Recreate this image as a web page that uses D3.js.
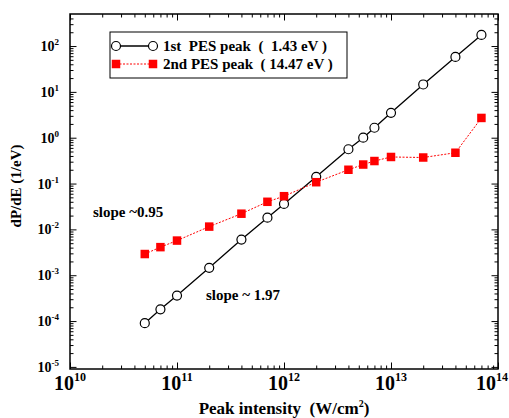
<!DOCTYPE html>
<html>
<head>
<meta charset="utf-8">
<script src="https://cdn.jsdelivr.net/npm/d3@7"></script>
<style>
  body { margin: 0; background: #fff; }
  text { font-family: "Liberation Serif", "Times New Roman", serif; font-weight: bold; fill: #000; white-space: pre; }
</style>
</head>
<body>
<div id="chart"></div>
<script>
// intensity (W/cm^2)
const intensity = [5e10, 7e10, 1e11, 2e11, 4e11, 7e11, 1e12, 2e12, 4e12, 5.5e12, 7e12, 1e13, 2e13, 4e13, 7e13];
// dP/dE for 1st PES peak (1.43 eV)
const peak1 = [9e-5, 1.8e-4, 3.6e-4, 1.45e-3, 6e-3, 1.8e-2, 3.6e-2, 0.14, 0.56, 1.0, 1.65, 3.5, 14.5, 58, 175];
// dP/dE for 2nd PES peak (14.47 eV)
const peak2 = [2.9e-3, 4.1e-3, 5.7e-3, 1.15e-2, 2.2e-2, 4e-2, 5.3e-2, 0.107, 0.2, 0.26, 0.31, 0.38, 0.37, 0.47, 2.7];
const xDecades = [10, 11, 12, 13, 14];
const yDecades = [-5, -4, -3, -2, -1, 0, 1, 2];
const legendLabels = ["1st  PES peak  (  1.43 eV )", "2nd PES peak  ( 14.47 eV )"];

const W = 509, H = 418;
const margin = {top: 14, right: 11, bottom: 49, left: 70};
const width = W - margin.left - margin.right;
const height = H - margin.top - margin.bottom;

const svg = d3.select("#chart").append("svg")
    .attr("width", W)
    .attr("height", H);

const g = svg.append("g")
    .attr("transform", `translate(${margin.left},${margin.top})`);

const x = d3.scaleLog().domain([1e10, 1e14]).range([0, width]);
const y = d3.scaleLog().domain([9e-6, 500]).range([height, 0]);

// major and minor tick values
const xMajor = xDecades.map(e => Math.pow(10, e));
const xMinor = [];
xDecades.slice(0, -1).forEach(e => { for (let k = 2; k < 10; k++) xMinor.push(k * Math.pow(10, e)); });
const yMajor = yDecades.map(e => Math.pow(10, e));
const yMinor = [];
[-6].concat(yDecades).forEach(e => {
    for (let k = 2; k < 10; k++) {
        const v = k * Math.pow(10, e);
        if (v > 9e-6 && v < 500) yMinor.push(v);
    }
});

function tickAxis(axisFn, scale, vals, size) {
    return axisFn(scale).tickValues(vals).tickSize(size).tickFormat("");
}

const axes = [
    [d3.axisBottom, x, `translate(0,${height})`],
    [d3.axisTop, x, null],
    [d3.axisLeft, y, null],
    [d3.axisRight, y, `translate(${width},0)`]
];
axes.forEach(([fn, sc, tr]) => {
    const isX = sc === x;
    [[isX ? xMajor : yMajor, 6.5], [isX ? xMinor : yMinor, 3.5]].forEach(([vals, len]) => {
        const a = g.append("g").call(tickAxis(fn, sc, vals, -len));
        if (tr) a.attr("transform", tr);
        a.select(".domain").remove();
        a.selectAll("line").attr("stroke", "#000").attr("stroke-width", 1);
    });
});

// frame
g.append("rect")
    .attr("width", width)
    .attr("height", height)
    .attr("fill", "none")
    .attr("stroke", "#000")
    .attr("stroke-width", 1.5);

// x tick labels (last one pulled in so it fits)
const xl = g.selectAll(".xlab").data(xDecades).join("text")
    .attr("class", "xlab")
    .attr("x", (d, i) => i === xDecades.length - 1 ? width + margin.right - 1 : x(Math.pow(10, d)))
    .attr("y", height + 21)
    .attr("text-anchor", (d, i) => i === xDecades.length - 1 ? "end" : "middle")
    .style("font-size", "20px");
xl.append("tspan").text("10");
xl.append("tspan").attr("dy", -9).style("font-size", "12px").text(d => d);

// y tick labels
const yl = g.selectAll(".ylab").data(yDecades).join("text")
    .attr("class", "ylab")
    .attr("x", -11)
    .attr("y", d => y(Math.pow(10, d)) + 5)
    .attr("text-anchor", "end")
    .style("font-size", "14px");
yl.append("tspan").text("10");
yl.append("tspan").attr("dy", -6).style("font-size", "9px").text(d => d);

// axis titles
const xt = svg.append("text")
    .attr("x", margin.left + width / 2)
    .attr("y", 414)
    .attr("text-anchor", "middle")
    .style("font-size", "17px");
xt.append("tspan").text("Peak intensity  (W/cm");
xt.append("tspan").attr("dy", -7).style("font-size", "10px").text("2");
xt.append("tspan").attr("dy", 7).text(")");

svg.append("text")
    .attr("transform", "translate(21,186) rotate(-90)")
    .attr("text-anchor", "middle")
    .style("font-size", "15px")
    .text("dP/dE (1/eV)");

// series
const pts1 = intensity.map((v, i) => [v, peak1[i]]);
const pts2 = intensity.map((v, i) => [v, peak2[i]]);
const line = d3.line().x(d => x(d[0])).y(d => y(d[1]));

g.append("path")
    .datum(pts1)
    .attr("d", line)
    .attr("fill", "none")
    .attr("stroke", "#000")
    .attr("stroke-width", 1.3);

g.append("path")
    .datum(pts2)
    .attr("d", line)
    .attr("fill", "none")
    .attr("stroke", "#ff0000")
    .attr("stroke-width", 1)
    .attr("stroke-dasharray", "2,1.5");

g.selectAll(".c1").data(pts1).join("circle")
    .attr("class", "c1")
    .attr("cx", d => x(d[0]))
    .attr("cy", d => y(d[1]))
    .attr("r", 4.5)
    .attr("fill", "#fff")
    .attr("stroke", "#000")
    .attr("stroke-width", 1.2);

const sq = 8.5;
g.selectAll(".s2").data(pts2).join("rect")
    .attr("class", "s2")
    .attr("x", d => x(d[0]) - sq / 2)
    .attr("y", d => y(d[1]) - sq / 2)
    .attr("width", sq)
    .attr("height", sq)
    .attr("fill", "#ff0000");

// annotations
svg.append("text").attr("x", 93).attr("y", 217).style("font-size", "15px").text("slope ~0.95");
svg.append("text").attr("x", 206).attr("y", 300).style("font-size", "15px").text("slope ~ 1.97");

// legend
const lg = svg.append("g");
lg.append("rect")
    .attr("x", 110).attr("y", 32)
    .attr("width", 237).attr("height", 46)
    .attr("fill", "#fff")
    .attr("stroke", "#000")
    .attr("stroke-width", 1);

const rows = [46, 64];
lg.append("line").attr("x1", 116).attr("x2", 153).attr("y1", rows[0]).attr("y2", rows[0])
    .attr("stroke", "#000").attr("stroke-width", 1.3);
[116, 153].forEach(cx => lg.append("circle").attr("cx", cx).attr("cy", rows[0]).attr("r", 4.5)
    .attr("fill", "#fff").attr("stroke", "#000").attr("stroke-width", 1.2));
lg.append("line").attr("x1", 116).attr("x2", 153).attr("y1", rows[1]).attr("y2", rows[1])
    .attr("stroke", "#ff0000").attr("stroke-width", 1).attr("stroke-dasharray", "2,1.5");
[116, 153].forEach(cx => lg.append("rect").attr("x", cx - sq / 2).attr("y", rows[1] - sq / 2)
    .attr("width", sq).attr("height", sq).attr("fill", "#ff0000"));

lg.selectAll(".lt").data(legendLabels).join("text")
    .attr("class", "lt")
    .attr("x", 163)
    .attr("y", (d, i) => rows[i] + 5)
    .style("font-size", "15px")
    .text(d => d);
</script>
</body>
</html>
